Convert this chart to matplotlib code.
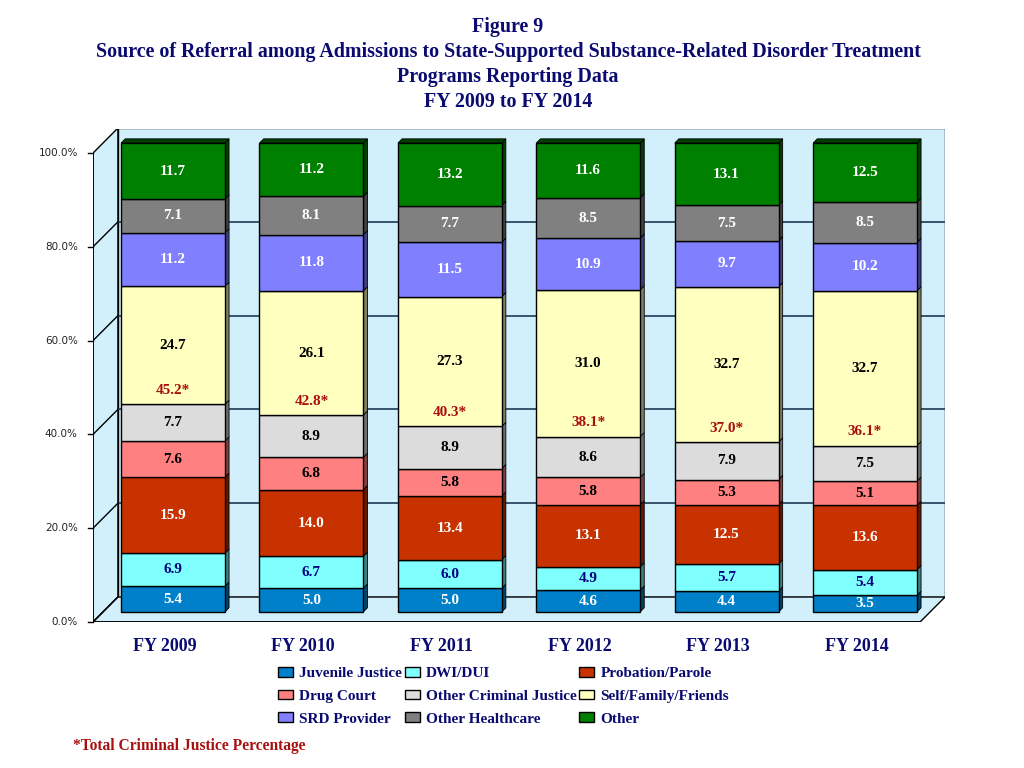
import matplotlib
matplotlib.use("Agg")
import matplotlib.pyplot as plt
import numpy as np
from matplotlib.patches import Polygon, Patch

# ---------------- data ----------------
years = ["FY 2009", "FY 2010", "FY 2011", "FY 2012", "FY 2013", "FY 2014"]
categories = ["Juvenile Justice", "DWI/DUI", "Probation/Parole", "Drug Court",
              "Other Criminal Justice", "Self/Family/Friends", "SRD Provider",
              "Other Healthcare", "Other"]
juvenile = [5.4, 5.0, 5.0, 4.6, 4.4, 3.5]
dwi = [6.9, 6.7, 6.0, 4.9, 5.7, 5.4]
probation = [15.9, 14.0, 13.4, 13.1, 12.5, 13.6]
drug_court = [7.6, 6.8, 5.8, 5.8, 5.3, 5.1]
other_cj = [7.7, 8.9, 8.9, 8.6, 7.9, 7.5]
self_family = [24.7, 26.1, 27.3, 31.0, 32.7, 32.7]
srd = [11.2, 11.8, 11.5, 10.9, 9.7, 10.2]
other_hc = [7.1, 8.1, 7.7, 8.5, 7.5, 8.5]
other = [11.7, 11.2, 13.2, 11.6, 13.1, 12.5]
cj_total = [45.2, 42.8, 40.3, 38.1, 37.0, 36.1]
yticks = [0, 20, 40, 60, 80, 100]

series = [juvenile, dwi, probation, drug_court, other_cj, self_family, srd, other_hc, other]
colors = ["#0080C8", "#80FFFF", "#C83200", "#FF8080", "#DCDCDC", "#FFFFC0",
          "#8080FF", "#808080", "#008000"]
sides = ["#004466", "#408080", "#641900", "#804040", "#6E6E6E", "#808060",
         "#404080", "#404040", "#004000"]
label_colors = ["white", "#000080", "white", "black", "black", "black",
                "white", "white", "white"]

navy = "#0A0A70"
star_color = "#A81010"

# ---------------- figure ----------------
fig = plt.figure(figsize=(10.24, 7.68), dpi=100)
ax = fig.add_axes([93 / 1024, 1 - 622 / 768, 852 / 1024, 493 / 768])
ax.set_xlim(-0.578, 5.578)
ax.set_ylim(-2.13, 103.0)
ax.axis("off")

# depth offsets (data units)
fx, fy = -0.072, -2.13
bx, by = 0.108, 3.2
L, R = -0.506, 5.47
wall = "#D2F0FC"
gridc = "#1F3A55"

ax.add_patch(Polygon([(L + bx, by), (R + bx, by), (R + bx, 100 + by), (L + bx, 100 + by)],
                     closed=True, facecolor=wall, edgecolor="black", lw=1.0, zorder=0))
ax.add_patch(Polygon([(L + fx, fy), (L + fx, 100 + fy), (L + bx, 100 + by), (L + bx, by)],
                     closed=True, facecolor=wall, edgecolor="black", lw=1.0, zorder=0))
ax.add_patch(Polygon([(L + fx, fy), (R + fx, fy), (R + bx, by), (L + bx, by)],
                     closed=True, facecolor=wall, edgecolor="black", lw=1.0, zorder=0))
for g in yticks[1:-1]:
    ax.plot([L + bx, R + bx], [g + by, g + by], color=gridc, lw=1.2, zorder=0.5)
for g in yticks[:-1]:
    ax.plot([L + fx, L + bx], [g + fy, g + by], color="black", lw=1.0, zorder=0.5)
ax.plot([L + fx, L + fx], [fy, 100 + fy], color="black", lw=1.2, zorder=0.6)
ax.plot([L + fx, R + fx], [fy, fy], color="black", lw=1.2, zorder=0.6)

for g in yticks:
    ax.plot([L + fx - 0.035, L + fx], [g + fy, g + fy], color="black", lw=1.0, clip_on=False)
    ax.text(L + fx - 0.11, g + fy, f"{g:.1f}%", ha="right", va="center",
            fontsize=7.5, color="#222222", family="DejaVu Sans")

# ---------------- bars ----------------
x = np.arange(len(years))
data = np.array(series, dtype=float)
totals = data.sum(axis=0)
norm = data / totals * 100
w = 0.75
dxs, dys = 0.03, 0.9
cum = np.zeros(len(years))
for i, (vals, c, sc, lc) in enumerate(zip(norm, colors, sides, label_colors)):
    ax.bar(x, vals, width=w, bottom=cum, color=c, edgecolor="black", lw=1.0, zorder=3)
    for j in range(len(years)):
        b, h = cum[j], vals[j]
        xr = x[j] + w / 2
        ax.add_patch(Polygon([(xr, b), (xr + dxs, b + dys), (xr + dxs, b + h + dys), (xr, b + h)],
                             closed=True, facecolor=sc, edgecolor="black", lw=0.6, zorder=2.5))
        if i == len(series) - 1:
            xl = x[j] - w / 2
            ax.add_patch(Polygon([(xl, b + h), (xl + dxs, b + h + dys), (xr + dxs, b + h + dys), (xr, b + h)],
                                 closed=True, facecolor=sc, edgecolor="black", lw=0.6, zorder=2.5))
        ax.text(x[j], b + h / 2, f"{series[i][j]:.1f}", ha="center", va="center",
                fontsize=11, fontweight="bold", color=lc, family="Liberation Serif", zorder=5)
        if i == 5:
            ax.text(x[j], b + 3.0, f"{cj_total[j]:.1f}*", ha="center", va="center",
                    fontsize=11, fontweight="bold", color=star_color,
                    family="Liberation Serif", zorder=5)
    cum = cum + vals

for j, yr in enumerate(years):
    ax.text(x[j] - 0.06, fy - 5.3, yr, ha="center", va="center", fontsize=13,
            fontweight="bold", color=navy, family="Liberation Serif")

# ---------------- titles ----------------
title_lines = ["Figure 9",
               "Source of Referral among Admissions to State-Supported Substance-Related Disorder Treatment",
               "Programs Reporting Data",
               "FY 2009 to FY 2014"]
for k, t in enumerate(title_lines):
    fig.text(508 / 1024, 1 - (27 + 25 * k) / 768, t, ha="center", va="center",
             fontsize=14.4, fontweight="bold", color=navy, family="Liberation Serif")

# ---------------- legend ----------------
order = [0, 3, 6, 1, 4, 7, 2, 5, 8]
handles = [Patch(facecolor=colors[i], edgecolor="black", lw=1.0) for i in order]
labels = [categories[i] for i in order]
fig.legend(handles, labels, ncol=3, loc="upper left",
           bbox_to_anchor=(278 / 1024, 1 - 667 / 768), frameon=False,
           prop={"family": "Liberation Serif", "weight": "bold", "size": 11},
           labelcolor=navy, handlelength=1.0, handleheight=0.6, handletextpad=0.4,
           columnspacing=0.15, labelspacing=0.62, borderpad=0, borderaxespad=0)

fig.text(73 / 1024, 1 - 746 / 768, "*Total Criminal Justice Percentage", ha="left",
         va="center", fontsize=11.2, fontweight="bold", color=star_color,
         family="Liberation Serif")

fig.savefig("out.png", dpi=100)
